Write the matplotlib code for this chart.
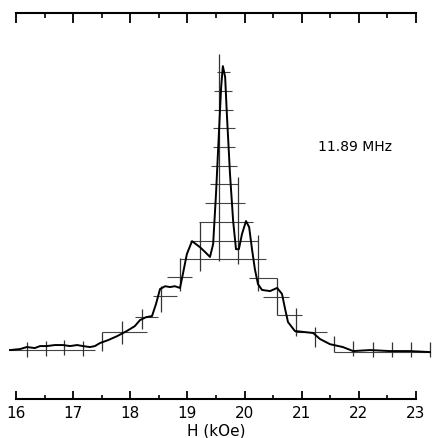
import numpy as np
import matplotlib
matplotlib.use("Agg")
import matplotlib.pyplot as plt
from matplotlib.ticker import MultipleLocator

# spectrum trace (H in kOe, intensity arb. units)
H = [15.895, 16.07, 16.19, 16.33, 16.42, 16.54, 16.68, 16.82, 16.945, 17.07,
     17.17, 17.295, 17.38, 17.47, 17.61, 17.77, 17.94, 18.08, 18.17, 18.275,
     18.38, 18.45, 18.52, 18.61, 18.695, 18.78, 18.87, 18.92, 18.99, 19.08,
     19.22, 19.31, 19.395, 19.45, 19.5, 19.55, 19.59, 19.62, 19.66, 19.69,
     19.745, 19.8, 19.85, 19.9, 19.955, 20.025, 20.08, 20.13, 20.18, 20.235,
     20.305, 20.445, 20.57, 20.655, 20.71, 20.76, 20.88, 21.06, 21.2, 21.32,
     21.495, 21.72, 21.9, 22.195, 22.545, 22.895, 23.245]
I = [0.35, 0.7, 1.4, 1.05, 1.74, 1.74, 2.1, 2.1, 1.74, 2.1,
     1.74, 1.4, 1.74, 2.8, 3.8, 5.2, 7.0, 8.7, 10.8, 11.8,
     12.2, 16.4, 21.6, 22.6, 22.3, 22.6, 22.0, 26.8, 33.8, 38.3,
     36.2, 34.5, 32.8, 37.3, 54.7, 75.6, 92.0, 99.3, 95.5, 82.6,
     61.7, 45.3, 35.5, 35.5, 40.8, 45.3, 43.2, 35.5, 28.6, 23.3,
     21.3, 20.9, 22.0, 19.9, 14.6, 10.1, 7.0, 6.6, 6.3, 4.2,
     2.4, 1.4, 0.0, 0.35, 0.0, 0.0, -0.35]

# histogram: horizontal bars (level, from, to)
bar_level = [0.35, 6.6, 11.8, 19.2, 25.8, 32.1, 38.3, 44.9, 51.6, 58.2,
             64.5, 71.1, 77.7, 84.0, 90.6, 97.2,
             25.4, 18.8, 12.5, 6.6, -0.35]
bar_from = [15.9, 17.5, 18.08, 18.4, 18.64, 18.87, 19.05, 19.2, 19.31, 19.4,
            19.41, 19.45, 19.45, 19.465, 19.465, 19.52,
            20.08, 20.32, 20.57, 20.88, 21.565]
bar_to = [17.38, 18.29, 18.48, 18.82, 19.08, 20.375, 20.235, 20.15, 20.01, 19.885,
          19.87, 19.83, 19.83, 19.8, 19.78, 19.745,
          20.57, 20.78, 21.005, 21.44, 23.245]

# vertical bars (position, bottom, top)
bar_pos = [16.19, 16.525, 16.84, 17.17, 17.505, 17.855, 18.205, 18.54, 18.87,
           19.22, 19.55, 19.885, 20.235, 20.57, 20.9, 21.23, 21.565, 21.9,
           22.25, 22.58, 22.91, 23.245]
bar_lo = [-2.1, -1.7, -1.4, -1.7, 0.0, 2.4, 7.7, 13.6, 20.9,
          27.9, 31.4, 30.3, 20.9, 12.5, 5.2, 1.4, -0.35, -1.7,
          -2.1, -2.1, -2.1, -2.1]
bar_hi = [3.1, 3.5, 3.8, 3.5, 6.6, 10.5, 14.6, 22.6, 32.4,
          44.9, 103.5, 60.6, 40.4, 25.4, 15.0, 8.4, 5.2, 3.5,
          3.1, 3.1, 3.1, 3.1]

fig = plt.figure(figsize=(4.32, 4.39), dpi=100)
ax = fig.add_axes([16 / 432, 39 / 439, 400 / 432, 386 / 439])

ax.hlines(bar_level, bar_from, bar_to, color="#444444", lw=0.8, clip_on=False)
ax.vlines(bar_pos, bar_lo, bar_hi, color="#333333", lw=0.9, clip_on=False)
ax.plot(H, I, color="black", lw=1.4, clip_on=False)

ax.text(21.93, 71.4, "11.89 MHz", fontsize=10, ha="center", va="center")

ax.set_xlim(16, 23)
ax.set_ylim(-16.7, 117.8)
for s in ["left", "right", "top"]:
    ax.spines[s].set_visible(False)
ax.spines["bottom"].set_linewidth(1.5)
ax.set_yticks([])
ax.xaxis.set_major_locator(MultipleLocator(1))
ax.xaxis.set_minor_locator(MultipleLocator(0.5))
ax.tick_params(axis="x", which="major", direction="in", length=5.5, width=1.3,
               labelsize=11, pad=4)
ax.tick_params(axis="x", which="minor", direction="in", length=3, width=1.2)
ax.set_xlabel("H (kOe)", fontsize=11, labelpad=2)

top = ax.secondary_xaxis("top")
top.spines["top"].set_linewidth(1.5)
top.xaxis.set_major_locator(MultipleLocator(1))
top.xaxis.set_minor_locator(MultipleLocator(0.5))
top.tick_params(axis="x", which="major", direction="in", length=7, width=1.3,
                labeltop=False)
top.tick_params(axis="x", which="minor", direction="in", length=3.5, width=1.2)

fig.savefig("out.png", dpi=100)
